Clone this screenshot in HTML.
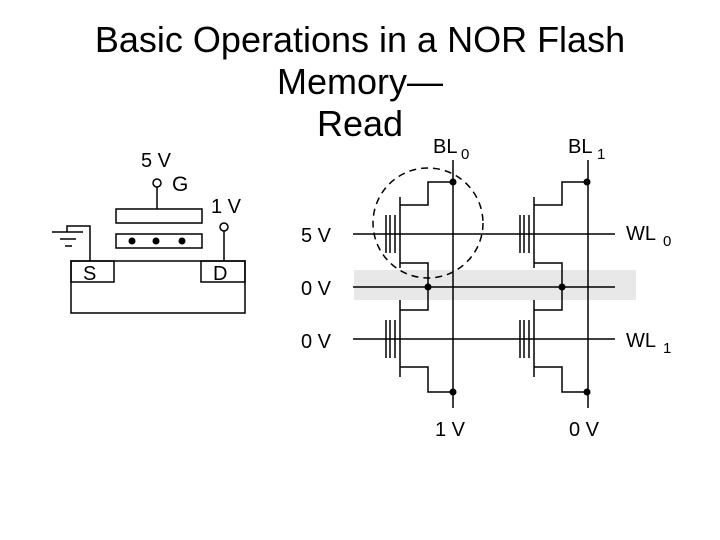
<!DOCTYPE html>
<html><head><style>
body{margin:0;background:#fff;width:720px;height:540px;overflow:hidden;font-family:"Liberation Sans",sans-serif}
.t{position:absolute;left:0;width:720px;text-align:center;font-size:36px;line-height:42px;color:#000}
</style></head><body>
<div class="t" style="top:19px">Basic Operations in a NOR Flash<br>Memory—<br>Read</div>
<svg width="720" height="540" style="position:absolute;left:0;top:0" font-family="Liberation Sans, sans-serif" font-size="20">
<g fill="none" stroke="#000" stroke-width="1.5">
<rect x="71" y="261" width="174" height="52"/>
<rect x="71" y="261" width="43" height="21"/>
<rect x="201" y="261" width="44" height="21"/>
<rect x="116" y="234" width="86" height="14"/>
<rect x="116" y="209" width="86" height="14"/>
<line x1="157" y1="209" x2="157" y2="187"/>
<circle cx="157" cy="183" r="4"/>
<line x1="224" y1="261" x2="224" y2="231"/>
<circle cx="224" cy="227" r="4"/>
<polyline points="90,261 90,226 67,226 67,232"/>
<line x1="52" y1="232" x2="83" y2="232"/>
<line x1="60" y1="239" x2="76" y2="239"/>
<line x1="65" y1="246" x2="72" y2="246"/>
</g>
<g fill="#000"><circle cx="132" cy="241" r="3.5"/><circle cx="156" cy="241" r="3.5"/><circle cx="182" cy="241" r="3.5"/></g>
<text x="141" y="167">5 V</text><text x="172" y="191" font-size="21">G</text>
<text x="211" y="213">1 V</text>
<text x="83" y="280">S</text><text x="213" y="280">D</text>
<rect x="354" y="270" width="282" height="30" fill="#e8e8e8"/>
<g fill="none" stroke="#000" stroke-width="1.5">
<line x1="453" y1="160" x2="453" y2="408"/><line x1="588" y1="160" x2="588" y2="408"/>
<line x1="353" y1="234" x2="615" y2="234"/>
<line x1="353" y1="287" x2="615" y2="287"/>
<line x1="353" y1="339" x2="615" y2="339"/>
<g id="c">
<line x1="386" y1="215" x2="386" y2="253"/><line x1="390" y1="215" x2="390" y2="253"/><line x1="395" y1="215" x2="395" y2="253"/>
<line x1="400" y1="197" x2="400" y2="268"/>
<polyline points="400,205 428,205 428,182 453,182"/>
<polyline points="400,263 428,263 428,287"/>
<polyline points="428,287 428,310 400,310"/>
<line x1="400" y1="300" x2="400" y2="377"/>
<line x1="386" y1="320" x2="386" y2="358"/><line x1="390" y1="320" x2="390" y2="358"/><line x1="395" y1="320" x2="395" y2="358"/>
<polyline points="400,367 428,367 428,392 453,392"/>
</g>
<use href="#c" transform="translate(134,0)"/>
<circle cx="428" cy="223" r="55" stroke-dasharray="7,5"/>
</g>
<g fill="#000">
<circle cx="453" cy="182" r="3.5"/><circle cx="587" cy="182" r="3.5"/>
<circle cx="428" cy="287" r="3.5"/><circle cx="562" cy="287" r="3.5"/>
<circle cx="453" cy="392" r="3.5"/><circle cx="587" cy="392" r="3.5"/>
</g>
<text x="433" y="153">BL</text><text x="461" y="159" font-size="15">0</text>
<text x="568" y="153">BL</text><text x="597" y="159" font-size="15">1</text>
<text x="301" y="242">5 V</text><text x="301" y="295">0 V</text><text x="301" y="348">0 V</text>
<text x="626" y="240">WL</text><text x="663" y="246" font-size="15">0</text>
<text x="626" y="347">WL</text><text x="663" y="353" font-size="15">1</text>
<text x="435" y="436">1 V</text><text x="569" y="436">0 V</text>
</svg>
</body></html>
